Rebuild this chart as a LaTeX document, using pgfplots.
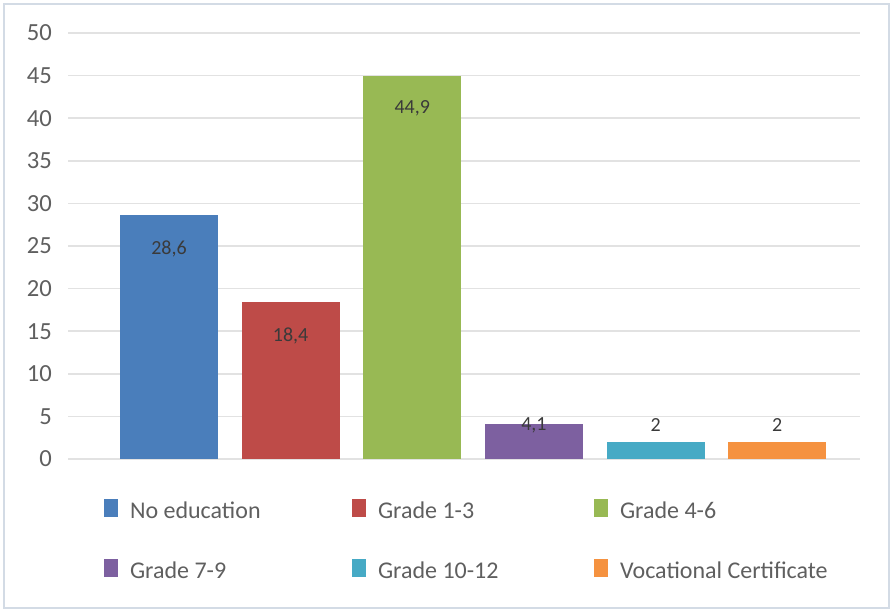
\documentclass[border=0pt]{standalone}
\usepackage{pgfplots}
\pgfplotsset{compat=1.18}
\usepackage{fontspec}
\setmainfont{Carlito}
\definecolor{cblue}{HTML}{4A7EBB}
\definecolor{cred}{HTML}{BE4B48}
\definecolor{cgreen}{HTML}{98B954}
\definecolor{cpurple}{HTML}{7D60A0}
\definecolor{ccyan}{HTML}{46AAC5}
\definecolor{corange}{HTML}{F59240}
\definecolor{txt}{HTML}{5F5F5F}
\definecolor{lbl}{HTML}{3A3A3A}
\definecolor{gridc}{HTML}{E2E2E2}
\definecolor{framec}{HTML}{D3DBE5}
\begin{document}
\begin{tikzpicture}
\path[use as bounding box] (0pt,0pt) rectangle (446.5pt,306pt);
\draw[framec, line width=1.2pt] (2pt,2pt) rectangle (444.5pt,304pt);
\begin{axis}[
  at={(34pt,76.5pt)}, anchor=south west,
  scale only axis, width=396pt, height=213pt,
  ymin=0, ymax=50, xmin=-0.83, xmax=5.68,
  ytick={0,5,...,50}, xtick=\empty,
  ymajorgrids, grid style={gridc, line width=0.8pt},
  axis line style={draw=none}, major tick length=0pt,
  tick label style={font=\fontsize{12.3}{14}\selectfont, text=txt},
  yticklabel style={xshift=-4.5pt},
  /pgf/number format/assume math mode=true,
  ybar, bar shift=0pt, bar width=0.806,
  nodes near coords={\pgfmathprintnumber[use comma]{\pgfplotspointmeta}},
  nodes near coords style={font=\fontsize{10}{12}\selectfont, text=lbl, anchor=center, /pgf/number format/assume math mode=true},
  legend columns=3,
  legend cell align=left,
  legend image code/.code={\fill[#1] (0pt,-2pt) rectangle (7pt,7pt);},
  legend style={draw=none, fill=none, at={(0.4975,-0.1948)}, anchor=center,
    font=\fontsize{12}{14}\selectfont, text=txt,
    nodes={inner sep=0pt, text height=9pt, text depth=3pt},
    /tikz/every odd column/.append style={column sep=6pt},
    row sep=17pt},
]
\addplot[fill=cblue, draw=none, nodes near coords style={yshift=-17pt}] coordinates {(0,28.6)};
\addlegendentry{\makebox[111pt][l]{No education}}
\addplot[fill=cred, draw=none, nodes near coords style={yshift=-17pt}] coordinates {(1,18.4)};
\addlegendentry{\makebox[108pt][l]{Grade 1-3}}
\addplot[fill=cgreen, draw=none, nodes near coords style={yshift=-16pt}] coordinates {(2,44.9)};
\addlegendentry{\makebox[100pt][l]{Grade 4-6}}
\addplot[fill=cpurple, draw=none, nodes near coords style={yshift=-0.5pt}] coordinates {(3,4.1)};
\addlegendentry{\makebox[111pt][l]{Grade 7-9}}
\addplot[fill=ccyan, draw=none, nodes near coords style={yshift=8.5pt}] coordinates {(4,2)};
\addlegendentry{\makebox[108pt][l]{Grade 10-12}}
\addplot[fill=corange, draw=none, nodes near coords style={yshift=8.5pt}] coordinates {(5,2)};
\addlegendentry{\makebox[100pt][l]{Vocational Certificate}}
\end{axis}
\end{tikzpicture}
\end{document}
